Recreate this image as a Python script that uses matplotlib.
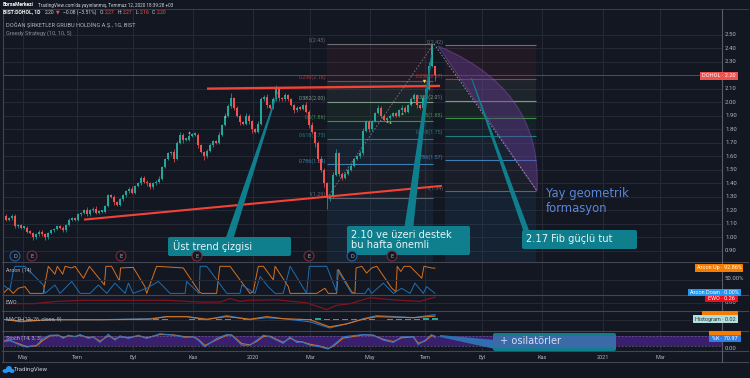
import numpy as np
import matplotlib
matplotlib.use("Agg")
import matplotlib.pyplot as plt
from matplotlib.patches import Polygon, PathPatch, FancyBboxPatch, Ellipse
from matplotlib.path import Path

# candles, one every 3 px
closes = [1.16,1.13,1.14,1.16,1.08,1.09,1.07,1.07,1.04,1.03,
          1.00,1.02,1.04,1.02,1.00,1.03,1.05,1.06,1.08,1.07,
          1.05,1.09,1.13,1.14,1.13,1.17,1.18,1.20,1.17,1.20,
          1.21,1.18,1.19,1.19,1.23,1.31,1.30,1.26,1.24,1.28,
          1.31,1.34,1.36,1.33,1.38,1.40,1.44,1.41,1.40,1.37,
          1.40,1.41,1.43,1.52,1.58,1.62,1.63,1.58,1.70,1.76,
          1.72,1.72,1.75,1.76,1.76,1.68,1.63,1.60,1.64,1.68,
          1.71,1.70,1.76,1.83,1.90,1.97,2.03,1.96,1.90,1.85,
          1.84,1.90,1.86,1.80,1.78,1.84,2.02,2.04,1.98,1.96,
          2.02,2.10,2.03,2.02,2.05,2.02,1.98,1.94,1.96,1.95,
          1.98,1.93,1.83,1.78,1.70,1.58,1.50,1.40,1.29,1.30,
          1.46,1.62,1.47,1.44,1.47,1.50,1.53,1.58,1.60,1.62,
          1.79,1.85,1.80,1.86,1.92,1.96,1.90,1.87,1.88,1.90,
          1.92,1.90,1.94,1.96,1.93,1.98,2.02,2.05,1.98,1.96,
          2.03,2.10,2.27,2.42,2.20]
# wicks in hundredths
wick_up = [1,1,1,1,1,1,1,1,1,1, 1,1,1,1,1,1,1,1,1,1,
           1,1,1,1,1,1,1,1,2,1, 1,2,1,1,1,1,1,1,1,1,
           1,1,1,2,1,1,1,1,1,1, 1,1,2,1,1,1,1,2,1,2,
           1,1,2,1,2,1,1,1,1,2, 1,1,2,1,2,2,4,1,1,1,
           1,2,1,1,1,2,2,1,2,1, 2,3,1,1,2,1,1,1,1,1,
           1,2,1,2,1,1,2,1,1,2, 2,3,1,1,1,1,2,1,1,2,
           2,2,2,1,1,2,1,1,1,1, 1,1,1,2,1,1,2,2,1,1,
           2,2,3,1,0]
wick_dn = [1,1,1,1,1,1,1,1,1,1, 2,1,1,1,2,1,1,1,1,1,
           1,1,1,1,1,1,1,1,1,1, 1,1,1,1,1,1,1,2,1,1,
           1,1,1,1,1,1,1,1,2,1, 1,1,1,1,1,1,1,2,1,1,
           2,1,1,1,1,2,1,3,1,1, 1,1,1,1,1,1,1,2,1,2,
           1,1,2,3,1,1,1,1,2,1, 1,1,2,1,1,1,1,2,1,1,
           1,1,2,1,3,2,2,3,8,2, 1,1,2,2,1,1,1,1,1,1,
           1,1,2,1,1,1,2,1,1,1, 1,1,1,1,1,1,1,1,2,1,
           1,1,1,1,4]

# green / yellow signal marks
sig_x = [62, 74, 128, 129, 133, 136]
sig_y = [1.78, 1.90, 1.86, 1.85, 1.92, 2.00]

price_ticks = [2.5,2.4,2.3,2.2,2.1,2.0,1.9,1.8,1.7,1.6,1.5,1.4,1.3,1.2,1.1,1.0,0.9]
month_pos = [6.7,24.7,43.3,63.3,83.3,102.3,122.3,140.7,159.7,179.7,200,219]
month_lab = ["May","Tem","Eyl","Kas","2020","Mar","May","Tem","Eyl","Kas","2021","Mar"]

fib_names = ["0","0.236","0.382","0.5","0.618","0.786","1"]
fib_cols = ["#6b6e76","#a23a3a","#7d9a86","#3c8f45","#1f7f80","#3d7fb5","#5d6470"]
fib_a = [2.43,2.16,2.00,1.86,1.73,1.54,1.29]
fib_b = [2.42,2.17,2.01,1.88,1.75,1.57,1.34]

aroon_up_x = [0.1,1.8,3.4,5.1,7.3,9,13.4,15.1,17.3,18.1,19.9,20.7,22.9,24,26.8,28.8,33.8,34.3,36.2,38.8,
              39.2,43.4,47.3,47.9,51.2,57.3,60.1,65.4,66.2,71.2,72.3,75.7,82.3,83.4,85.1,86.8,90.1,90.7,95.1,95.7,
              104.6,107.3,108.4,111.2,111.8,116.2,117.3,117.7,119.6,121.2,122.9,124.6,129.6,131,131.4,132.6,133.7,135.7,139.6,140.3,
              142.9,144]
aroon_up = [0,19,0,19,25,0,0,100,71,100,71,100,94,100,56,100,31,100,100,46,
            94,96,25,0,100,96,94,6,0,0,100,100,0,6,100,100,50,100,25,0,
            0,19,0,0,88,6,0,94,100,75,94,100,19,6,100,81,100,100,56,100,
            94,93]
aroon_dn_x = [0.1,2.3,3.4,4,7.3,13.4,14,17.3,19,22.9,25.7,29,31.8,34.6,37.3,40.7,41.8,43.4,47.9,51.8,
              55.7,60.7,61.2,65.4,65.7,67.9,74.6,79,79.6,82.3,84,85.7,88.4,90.7,93.4,95.7,101.2,102.1,107.9,111.2,
              111.4,116.2,120.7,121.8,122.9,126.8,130.1,132.9,135.7,137.3,140.1,141.2,144]
aroon_dn = [31,12,81,100,100,31,0,31,0,44,0,0,31,0,38,0,38,0,19,44,
            0,0,44,0,100,100,0,0,31,12,0,62,25,0,0,100,0,100,100,6,
            88,0,0,19,0,38,0,19,0,38,0,25,0]

ewo_x = [1.2,10.1,17.9,26.8,43.4,54.6,65.7,72.3,75.7,79,82.3,91.2,101.2,107.9,111.2,115.7,122.3,130.1,139,144]
ewo = [-.03,-.03,.07,.12,.12,.12,.04,.04,.19,.07,.12,.14,.01,-.29,-.10,-.03,.23,.14,.07,.26]

macd_x = [1.2,5.7,15.7,32.3,49,54.6,61.2,67.9,74.6,82.3,87.9,93.4,102.3,108.9,114.6,120.1,124.6,136.8,144]
macd = [0,-.02,0,0,.01,.03,.03,0,.04,0,.02,.01,-.02,-.08,-.04,.01,.04,.02,.05]
signal = [0,-.015,0,0,.005,.03,.03,.005,.03,.005,.03,.01,0,-.07,-.04,.005,.03,.02,.035]
hist_vals = [.003,-.004,.004,.003,-.003,.004,.005,-.003,.003,.004,-.004,.005,.003,-.003,.004,.006,
             -.004,.005,.004,-.005,-.004,.004,.006,-.006,.005,.003,-.004,.004,-.006,-.009,-.012,-.010,
             -.007,.004,.009,.012,.008,.010,.007,.011,.006,.008,-.004,.005,.007,.006,.010,.012,.014]

stoch_x = [0.1,2.3,5.7,7.9,11.2,13.4,15.7,18.4,20.1,21.8,24,25.7,28.4,30.1,32.3,35.1,37.3,39,41.8,45.1,
           47.9,52.3,56.8,60.7,63.4,65.1,67.3,71.2,74.6,76.2,79.6,82.3,84.6,86.8,89,91.2,93.4,95.7,97.9,99.6,
           102.3,105.7,108.4,110.1,113.4,120.1,123.4,126.8,130.1,132.9,136.8,138.4,140.7,142.9,144]
stoch_k = [45,55,24,12,24,66,86,86,66,86,76,90,66,76,41,92,55,82,66,86,
           66,95,86,72,76,55,14,66,90,86,24,24,55,86,76,55,35,76,41,45,
           24,14,0,24,76,90,86,55,41,76,76,28,55,90,71]
stoch_d = [50,52,30,16,20,55,82,86,72,82,78,86,72,74,48,82,62,76,70,82,
           70,90,88,76,76,60,22,58,86,88,34,26,48,78,80,60,42,68,48,45,
           30,18,4,18,68,88,86,60,46,70,76,36,50,84,80]

BG = "#131722"
GRID = "#262a36"
EDGE = "#434651"
TXT = "#b2b5be"
RED = "#ef5350"
TEAL = "#0f7f8e"
SMALL = "Roboto"
W, H = 750, 378
X0, X1 = 3, 722

fig = plt.figure(figsize=(7.5, 3.78), dpi=100, facecolor=BG)


def pane(top, bottom, ylim):
    a = fig.add_axes([X0/W, 1-bottom/H, (X1-X0)/W, (bottom-top)/H], facecolor=BG)
    a.set_xlim(0, (X1-X0)/3)
    a.set_ylim(*ylim)
    a.set_xticks(month_pos)
    a.tick_params(length=0, labelbottom=False, labelleft=False)
    a.grid(axis="x", color=GRID, lw=0.7)
    a.set_axisbelow(True)
    for s in a.spines.values():
        s.set_visible(False)
    return a


ax = pane(9, 262, (0.816, 2.69))
ax.set_yticks(price_ticks)
ax.grid(axis="y", color=GRID, lw=0.7)

# fib blocks
for x0, x1, lev, in ((108, 143.3, fib_a), (147.3, 177.7, fib_b)):
    for i in range(len(lev)):
        ax.hlines(lev[i], x0, x1, color=fib_cols[i], lw=0.8, zorder=2)
        if i < len(lev)-1:
            ax.fill_between([x0, x1], lev[i], lev[i+1], color=fib_cols[i+1], alpha=0.1, lw=0, zorder=1)
    ax.fill_between([x0, x1], 0.816, lev[-1], color="#1e4a6e", alpha=0.22, lw=0, zorder=1)
for i in range(len(fib_a)):
    ax.text(107.7, fib_a[i]+0.005, "%s(%.2f)" % (fib_names[i], fib_a[i]), color=fib_cols[i], fontsize=3.9, family=SMALL, ha="right", va="bottom", zorder=3)
    ax.text(146.8, fib_b[i]+0.005, "%s(%.2f)" % (fib_names[i], fib_b[i]), color=fib_cols[i], fontsize=3.9, family=SMALL, ha="right", va="bottom", zorder=3)

# last price line
ax.axhline(closes[-1], color="#7d3b40", lw=0.7, zorder=2)

# candles
opens = [closes[0]] + closes[:-1]
opens[-1] = 2.27
xs = np.arange(len(closes))
for i in xs:
    o, c = opens[i], closes[i]
    col = "#26a69a" if c >= o else RED
    ax.vlines(i, min(o, c)-wick_dn[i]/100, max(o, c)+wick_up[i]/100, color=col, lw=0.5, zorder=4)
    ax.bar(i, max(abs(c-o), 0.012), bottom=min(o, c), width=0.8, color=col, lw=0, zorder=4)
ax.scatter(sig_x, sig_y, marker="^", s=3, color="#9ccc65", lw=0, zorder=5)
ax.scatter([140.3], [2.16], marker="v", s=6, color="#ffd54f", lw=0, zorder=5)

# trend lines
ax.plot([68, 145.7], [2.10, 2.12], color="#f44336", lw=1.7, zorder=6, solid_capstyle="butt")
ax.plot([27, 146.3], [1.13, 1.38], color="#f44336", lw=1.5, zorder=6, solid_capstyle="butt")

# indicator panes
a1 = pane(262, 295, (-6, 116))
a1.plot(aroon_up_x, aroon_up, color="#d9701c", lw=0.7)
a1.plot(aroon_dn_x, aroon_dn, color="#1f6fb2", lw=0.7)
a1.axhline(50, color=GRID, lw=0.7)

a2 = pane(295, 311, (-0.35, 0.35))
a2.axhline(0, color=GRID, lw=0.7)
a2.plot(ewo_x, ewo, color="#7f1420", lw=0.9)

a3 = pane(311, 331, (-0.11, 0.085))
a3.axhline(0, color=GRID, lw=0.7)
hx = np.arange(0, 145, 3)
a3.bar(hx, hist_vals, width=2.2, color=["#26a69a" if v > 0 else "#ef9a9a" for v in hist_vals], lw=0)
a3.plot(macd_x, macd, color="#1f78c8", lw=0.8)
a3.plot(macd_x, signal, color="#d9701c", lw=0.8)

a4 = pane(331, 351, (-12, 112))
a4.axhspan(20, 80, color="#3a1f6e", lw=0)
for v in (20, 80):
    a4.axhline(v, color="#6a5a8c", lw=0.5, ls=(0, (3, 2)))
a4.plot(stoch_x, stoch_d, color="#d9701c", lw=0.8)
a4.plot(stoch_x, stoch_k, color="#2f78c4", lw=0.8)

a5 = pane(351, 362, (0, 1))
a5.grid(False)
for p, lab in zip(month_pos, month_lab):
    a5.text(p, 0.45, lab, color=TXT, fontsize=4, family=SMALL, ha="center", va="center")

# overlay in picture pixels: frames, callouts, labels
ov = fig.add_axes([0, 0, 1, 1], facecolor="none")
ov.set_xlim(0, W)
ov.set_ylim(H, 0)
ov.axis("off")

for y in (262, 295, 311, 331, 351, 362):
    ov.plot([2, 748], [y, y], color=EDGE, lw=0.8)
ov.plot([2, 748], [8.5, 8.5], color=EDGE, lw=0.6)
ov.plot([2.5, 2.5], [8.5, 362], color=EDGE, lw=0.8)
ov.plot([722, 722], [8.5, 362], color="#5a5d68", lw=0.8)

# yay (arc) fan
arc = Path([(438, 46), (520, 80), (540, 135), (537, 191), (438, 46)],
           [Path.MOVETO, Path.CURVE4, Path.CURVE4, Path.CURVE4, Path.CLOSEPOLY])
ov.add_patch(PathPatch(arc, fc="#6a3a96", ec="#8a4fb8", alpha=0.42, lw=0.9))
ov.plot([434, 537], [44, 191], color="#9a9ca4", lw=0.6, ls=(0, (2, 2)))
ov.plot([327, 433], [198, 45], color="#787b84", lw=0.6, ls=(0, (2, 2)))

# callouts
for pts in ([(225, 240), (233, 240), (278, 92), (277, 92)],
            [(404, 230), (413, 230), (432, 55), (431, 55)],
            [(471, 78), (472, 78), (530, 233), (524, 233)]):
    ov.add_patch(Polygon(pts, fc=TEAL, lw=0, zorder=7))
ov.add_patch(Polygon([(440, 335), (440, 337), (495, 349), (495, 340)], fc="#2f6fb0", lw=0, zorder=7))
for x0, y0, x1, y1 in ((168, 237, 291, 256), (347, 226, 470, 255), (522, 230, 637, 249), (493, 333, 616, 351)):
    ov.add_patch(FancyBboxPatch((x0+2, y0+2), x1-x0-4, y1-y0-4, boxstyle="round,pad=2", fc=TEAL, lw=0, zorder=8))
ov.fill_between([493, 616], 336, 348, color="#3a6aa8", lw=0, zorder=9)
ov.text(173, 246.5, "Üst trend çizgisi", color="#e8f4f6", fontsize=7.1, va="center", zorder=10)
ov.text(351, 240, "2.10 ve üzeri destek\nbu hafta önemli", color="#e8f4f6", fontsize=7.1, va="center", linespacing=0.95, zorder=10)
ov.text(526, 239.5, "2.17 Fib güçlü tut", color="#e8f4f6", fontsize=7.1, va="center", zorder=10)
ov.text(500, 341.5, "+ osilatörler", color="#d5def2", fontsize=7.1, va="center", zorder=10)
ov.text(546, 201, "Yay geometrik\nformasyon", color="#5b86d6", fontsize=8.4, va="center", linespacing=1.2, zorder=10)

# event circles
for cx, cy, col, lab in ((15, 256, "#1e5fa8", "D"), (32, 256, "#7a2a3c", "E"), (121, 256, "#7a2a3c", "E"),
                         (197, 256, "#7a2a3c", "E"), (309, 256, "#7a2a3c", "E"), (352, 256, "#1e5fa8", "D"),
                         (392, 256, "#7a2a3c", "E")):
    ov.add_patch(Ellipse((cx, cy), 10, 10, fc=BG, ec=col, lw=0.8, zorder=11))
    ov.text(cx, cy, lab, color=TXT, fontsize=3.6, ha="center", va="center", zorder=12)

# price scale
p0 = 34.7
for v in price_ticks:
    if v != 2.2:
        ov.text(725, p0+(2.5-v)*135, "%.2f" % v, color=TXT, fontsize=4.3, family=SMALL, va="center")
ov.text(725, 279, "50.00%", color=TXT, fontsize=4.3, family=SMALL, va="center")
ov.text(725, 302.5, "0.00", color=TXT, fontsize=4.3, family=SMALL, va="center")
ov.text(725, 349, "0.00", color=TXT, fontsize=4.3, family=SMALL, va="center")

# value tags
for x0, y0, x1, y1, col, tc, lab in (
        (700, 72, 738, 79.5, RED, "white", "DOHOL · 2.20"),
        (695, 264, 743, 272, "#f57c00", "white", "Aroon Up · 92.86%"),
        (702, 311, 738, 316, "#f57c00", "white", ""),
        (709, 331, 741, 335, "#f57c00", "white", ""),
        (688, 289, 741, 296, "#2196f3", "white", "Aroon Down · 0.00%"),
        (705, 296, 738, 302, "#f00c18", "white", "EWO · 0.26"),
        (693, 315, 738, 323, "#b2dfdb", "#2a2e39", "Histogram · 0.02"),
        (709, 335, 741, 342, "#2f7de0", "white", "%K · 70.97")):
    ov.fill_between([x0, x1], y0, y1, color=col, lw=0, zorder=13)
    ov.text((x0+x1)/2, (y0+y1)/2, lab, color=tc, fontsize=4, family=SMALL, ha="center", va="center", zorder=14)

# header
ov.text(3, 5, "BorsaMerkezi", color="white", fontsize=3.6, family=SMALL, weight="bold", va="center")
ov.text(38, 5, "TradingView.com'da yayınlanmış, Temmuz 12, 2020 18:39:28 +03", color="#d1d4dc", fontsize=3.3, family=SMALL, va="center")
ov.text(3, 12, "BIST:DOHOL, 1D", color="white", fontsize=3.6, family=SMALL, weight="bold", va="center")
ov.text(45, 12, "2.20", color="#d1d4dc", fontsize=3.6, family=SMALL, va="center")
ov.text(56, 12, "▼", color=RED, fontsize=3.4, va="center")
ov.text(63, 12, "−0.08 (−3.51%)", color="#d1d4dc", fontsize=3.6, family=SMALL, va="center")
for x, lab, x2, val in ((100, "O:", 105, "2.27"), (118, "H:", 123, "2.27"), (136, "L:", 140, "2.16"), (152, "C:", 157, "2.20")):
    ov.text(x, 12, lab, color="#d1d4dc", fontsize=3.6, family=SMALL, va="center")
    ov.text(x2, 12, val, color=RED, fontsize=3.6, family=SMALL, va="center")
ov.text(6, 25, "DOĞAN ŞİRKETLER GRUBU HOLDİNG A.Ş., 1G, BIST", color=TXT, fontsize=4.1, family=SMALL, va="center")
ov.text(6, 33, "Greedy Strategy (10, 10, 5)", color="#8a8d96", fontsize=4.1, family=SMALL, va="center")

# pane titles
for y, lab in ((270, "Aroon (14)"), (303, "EWO"), (319, "MACD (12, 26, close, 9)"), (338, "Stoch (14, 3, 3)")):
    ov.text(6, y, lab, color=TXT, fontsize=3.9, family=SMALL, va="center", zorder=6)

# logo
for cx, cy, wd, ht in ((5.5, 371, 6, 4), (9, 369, 6, 6), (12, 371, 5, 4)):
    ov.add_patch(Ellipse((cx, cy), wd, ht, fc="#2196f3", lw=0))
ov.text(14, 370, "TradingView", color="#c8cbd3", fontsize=4.4, family=SMALL, va="center")

fig.savefig("out.png", dpi=100, facecolor=BG)
